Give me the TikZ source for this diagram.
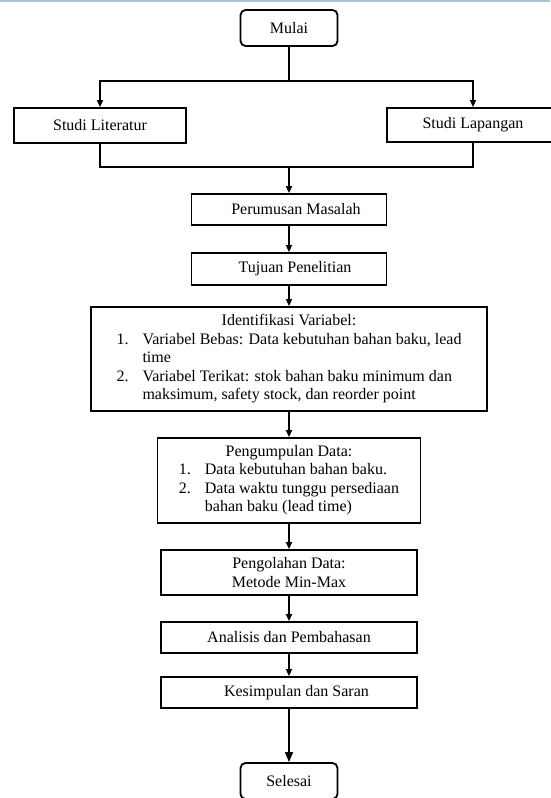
\documentclass[tikz,border=0pt]{standalone}
\usepackage{fontspec}
\setmainfont{Liberation Serif}
\usetikzlibrary{arrows.meta}
\definecolor{topblue}{RGB}{165,195,228}

\begin{document}
\begin{tikzpicture}[x=1pt, y=-1pt,
    every node/.style={font=\fontsize{16pt}{18.5pt}\selectfont},
    box/.style={draw, line width=1.8pt, inner sep=0pt},
    startstop/.style={box, rounded corners=5pt},
    arr/.style={line width=1.6pt, -{Triangle[length=7pt,width=6pt]}},
    line/.style={line width=1.6pt}]
    \useasboundingbox (0,0) rectangle (550,798);
    \draw[topblue, line width=2pt] (0,1) -- (550,1);

    % boxes
    \node[startstop, minimum width=97pt, minimum height=36pt] (mulai) at (289,28) {Mulai};
    \node[box, minimum width=172pt, minimum height=35pt] (lit) at (100,125.5) {Studi Literatur};
    \node[box, minimum width=172pt, minimum height=34pt] (lap) at (473,125) {Studi Lapangan};
    \node[box, minimum width=195pt, minimum height=31pt] (rumus) at (289,209.5) {\hspace*{14pt}Perumusan Masalah};
    \node[box, minimum width=195pt, minimum height=32pt] (tujuan) at (289,269) {\hspace*{12pt}Tujuan Penelitian};
    \node[box, minimum width=396pt, minimum height=104pt] (ident) at (289,359) {%
        \begin{tabular}{@{}r@{\hspace{14pt}}l@{}}
            \multicolumn{2}{c}{Identifikasi Variabel:}\\
            1. & Variabel Bebas: Data kebutuhan bahan baku, lead\\
               & time\\
            2. & Variabel Terikat: stok bahan baku minimum dan\\
               & maksimum, safety stock, dan reorder point
        \end{tabular}};
    \node[box, minimum width=263pt, minimum height=85pt] (kumpul) at (289,480.5) {%
        \begin{tabular}{@{}r@{\hspace{14pt}}l@{}}
            \multicolumn{2}{c}{Pengumpulan Data:}\\
            1. & Data kebutuhan bahan baku.\\
            2. & Data waktu tunggu persediaan\\
               & bahan baku (lead time)
        \end{tabular}};
    \node[box, minimum width=256pt, minimum height=45pt, align=center] (olah) at (289,572.5) {Pengolahan Data:\\Metode Min-Max};
    \node[box, minimum width=256pt, minimum height=31pt] (analisis) at (289,637.5) {Analisis dan Pembahasan};
    \node[box, minimum width=256pt, minimum height=31pt] (simpul) at (289,692.5) {\hspace*{15pt}Kesimpulan dan Saran};
    \node[startstop, minimum width=97pt, minimum height=36pt] (selesai) at (289,781) {Selesai};

    % connectors
    \coordinate (split) at (289,81);
    \coordinate (join) at (289,167);
    \draw[line] (mulai) -- (split);
    \draw[arr] (split) -| (lit);
    \draw[arr] (split) -| (lap);
    \draw[line] (lit) |- (join);
    \draw[line] (lap) |- (join);
    \draw[arr] (join) -- (rumus);
    \draw[arr] (rumus) -- (tujuan);
    \draw[arr] (tujuan) -- (ident);
    \draw[arr] (ident) -- (kumpul);
    \draw[arr] (kumpul) -- (olah);
    \draw[arr] (olah) -- (analisis);
    \draw[arr] (analisis) -- (simpul);
    \draw[line, -{Triangle[length=10pt,width=8pt]}] (simpul) -- (selesai);
\end{tikzpicture}
\end{document}
